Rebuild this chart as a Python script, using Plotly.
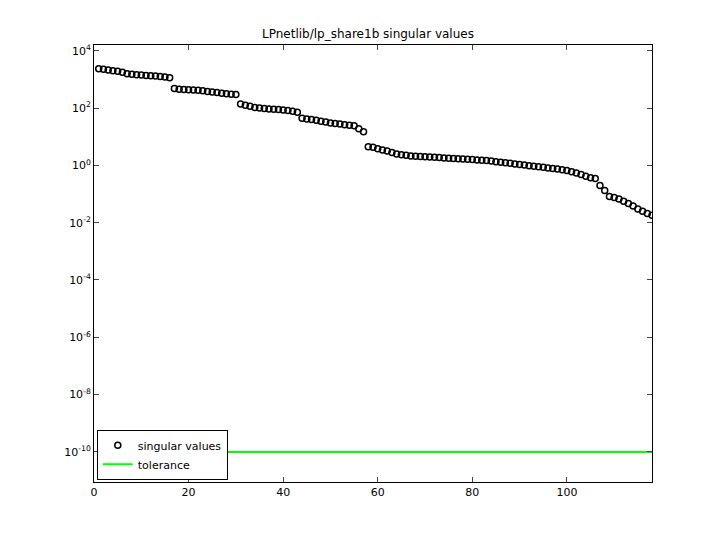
import plotly.graph_objects as go

log_sv = [3.37,3.35,3.33,3.30,3.28,3.25,3.20,3.18,3.16,3.15,3.14,3.13,3.12,3.10,3.08,3.06,
          2.68,2.66,2.65,2.64,2.63,2.62,2.60,2.58,2.56,2.54,2.52,2.50,2.48,2.47,
          2.14,2.10,2.06,2.02,2.00,1.98,1.97,1.96,1.95,1.93,1.91,1.89,1.85,
          1.64,1.62,1.60,1.57,1.54,1.51,1.48,1.46,1.44,1.42,1.40,1.38,1.28,1.17,
          0.65,0.63,0.58,0.54,0.50,0.45,0.40,0.37,0.35,0.33,0.32,0.31,0.30,0.29,0.28,0.27,
          0.26,0.25,0.24,0.23,0.22,0.21,0.20,0.19,0.18,0.17,0.15,0.13,0.11,0.09,0.07,0.05,
          0.03,0.01,-0.01,-0.03,-0.05,-0.07,-0.09,-0.11,-0.13,-0.15,-0.18,-0.22,-0.27,-0.32,
          -0.38,-0.43,-0.46,-0.70,-0.88,
          -1.09,-1.12,-1.17,-1.25,-1.33,-1.42,-1.52,-1.60,-1.68,-1.74]
idx = list(range(1, len(log_sv) + 1))
sv = [10 ** v for v in log_sv]
tol_x = [1, 118]
tol_y = [1e-10, 1e-10]

fig = go.Figure()
fig.add_trace(go.Scatter(x=idx, y=sv, mode="markers", name="singular values",
    marker=dict(symbol="circle-open", size=6, color="black", line=dict(width=1.5))))
fig.add_trace(go.Scatter(x=tol_x, y=tol_y, mode="lines", name="tolerance",
    line=dict(color="#00ff00", width=2)))

ax = dict(showline=True, linecolor="black", mirror="ticks", ticks="inside",
          ticklen=5, showgrid=False, zeroline=False, tickfont=dict(size=11, color="black"))
fig.update_xaxes(range=[0, 118], tickvals=[0,20,40,60,80,100], **ax)
fig.update_yaxes(type="log", range=[-11.05, 4.2],
                 tickvals=[1e-10,1e-8,1e-6,1e-4,1e-2,1,1e2,1e4],
                 ticktext=["10<sup>-10</sup>","10<sup>-8</sup>","10<sup>-6</sup>","10<sup>-4</sup>",
                           "10<sup>-2</sup>","10<sup>0</sup>","10<sup>2</sup>","10<sup>4</sup>"], **ax)
fig.update_layout(width=720, height=540, plot_bgcolor="white", paper_bgcolor="white",
    margin=dict(l=86, r=76, t=37, b=66),
    font=dict(family="DejaVu Sans", size=11, color="black"),
    title=dict(text="LPnetlib/lp_share1b singular values", x=0.5, xanchor="center", y=0.96, font=dict(size=12)),
    legend=dict(x=0.005, y=0.005, xanchor="left", yanchor="bottom", bordercolor="black",
                borderwidth=1, bgcolor="white", font=dict(size=11)),
    showlegend=True)
fig.write_html("out.html")
